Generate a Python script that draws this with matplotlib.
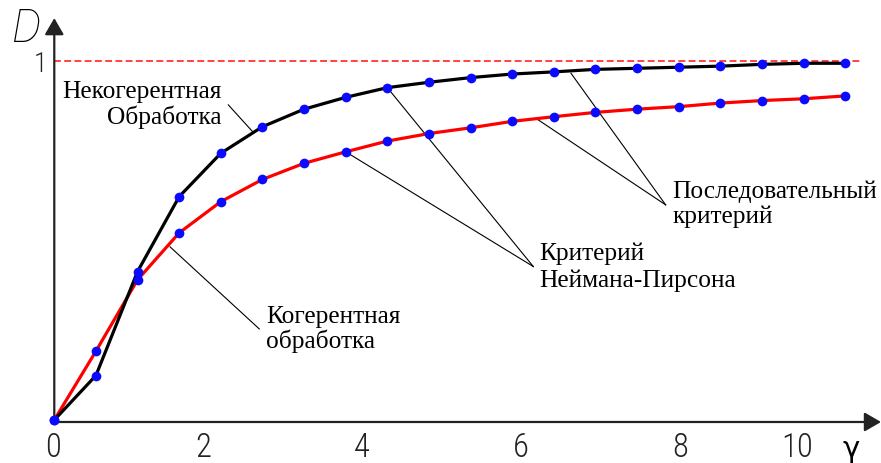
import matplotlib.pyplot as plt

# detection probability D vs signal-to-noise ratio gamma
gamma = [0.0, 0.5, 1.0, 1.5, 2.0, 2.5, 3.0, 3.5, 4.0, 4.5,
         5.0, 5.5, 6.0, 6.5, 7.0, 7.5, 8.0, 8.5, 9.0, 9.5]
d_noncoherent = [0.0, 0.124, 0.414, 0.623, 0.744, 0.818, 0.867, 0.900, 0.927, 0.942,
                 0.955, 0.965, 0.971, 0.978, 0.981, 0.984, 0.987, 0.992, 0.995, 0.995]
d_coherent = [0.0, 0.192, 0.391, 0.522, 0.609, 0.671, 0.716, 0.748, 0.778, 0.799,
              0.815, 0.833, 0.846, 0.858, 0.867, 0.874, 0.884, 0.891, 0.896, 0.904]

tick_labels = ['0', '2', '4', '6', '8', '10']
tick_pos = [-0.02, 1.786, 3.696, 5.605, 7.515, 8.92]

SERIF = ['Liberation Serif', 'DejaVu Serif']
NARROW = ['Roboto Condensed', 'Liberation Sans Narrow', 'Roboto', 'DejaVu Sans']
LIGHT = ['Roboto', 'Open Sans', 'DejaVu Sans']

fig = plt.figure(figsize=(8.81, 4.63), dpi=100)
ax = fig.add_axes([0, 0, 1, 1])
ax.set_xlim(-0.652, 9.929)
ax.set_ylim(-0.120, 1.1715)
ax.axis('off')

# axes with arrow heads
arrow = dict(arrowstyle='-|>,head_length=0.5,head_width=0.29', mutation_scale=20,
             lw=1.6, color='#222222', shrinkA=0, shrinkB=0)
ax.annotate('', xy=(0, 1.121), xytext=(0, -0.0056), arrowprops=arrow)
ax.annotate('', xy=(9.929, -0.0056), xytext=(0, -0.0056), arrowprops=arrow)

# D = 1 asymptote
ax.plot([0, 9.70], [1, 1], color='#ff1010', lw=1.1, dashes=(4.5, 2.2))

ax.plot(gamma, d_coherent, color='#ff0000', lw=2.3, zorder=3)
ax.plot(gamma, d_noncoherent, color='black', lw=2.3, zorder=3)
ax.plot(gamma, d_coherent, 'o', color='#0a0aff', ms=7, mec='none', zorder=4)
ax.plot(gamma, d_noncoherent, 'o', color='#0a0aff', ms=7, mec='none', zorder=4)

# leader lines
leaders = [
    ((2.383, 0.804), (2.090, 0.879)),
    ((1.390, 0.483), (2.462, 0.254)),
    ((4.0, 0.927), (5.753, 0.428)),
    ((3.5, 0.748), (5.753, 0.428)),
    ((6.206, 0.967), (7.343, 0.600)),
    ((5.813, 0.837), (7.343, 0.600)),
]
for (x0, y0), (x1, y1) in leaders:
    ax.plot([x0, x1], [y0, y1], color='black', lw=0.8, zorder=2)

fs = 18.3
ax.text(2.011, 0.897, 'Некогерентная', family=SERIF, fontsize=fs, ha='right', va='baseline')
ax.text(2.011, 0.826, 'Обработка', family=SERIF, fontsize=fs, ha='right', va='baseline')
ax.text(2.543, 0.270, 'Когерентная', family=SERIF, fontsize=fs, ha='left', va='baseline')
ax.text(2.543, 0.201, 'обработка', family=SERIF, fontsize=fs, ha='left', va='baseline')
ax.text(5.825, 0.446, 'Критерий', family=SERIF, fontsize=fs, ha='left', va='baseline')
ax.text(5.825, 0.372, 'Неймана-Пирсона', family=SERIF, fontsize=fs, ha='left', va='baseline')
ax.text(7.427, 0.618, 'Последовательный', family=SERIF, fontsize=fs, ha='left', va='baseline')
ax.text(7.427, 0.550, 'критерий', family=SERIF, fontsize=fs, ha='left', va='baseline')

# tick labels and axis names
for pos, lab in zip(tick_pos, tick_labels):
    ax.text(pos, -0.1032, lab, family=NARROW, fontsize=23.5, weight='light',
            stretch='condensed', ha='center', va='baseline', color='#222222')
ax.text(-0.168, 0.992, '1', family=NARROW, fontsize=20, weight='light',
        stretch='condensed', ha='center', va='center', color='#222222')
ax.text(9.57, -0.103, 'γ', family=['DejaVu Sans'], fontsize=21, ha='center', va='baseline')
ax.text(-0.328, 1.091, 'D', family=LIGHT, fontsize=33, weight='light', style='italic',
        ha='center', va='center', color='black')

fig.savefig('out.png', dpi=100)
